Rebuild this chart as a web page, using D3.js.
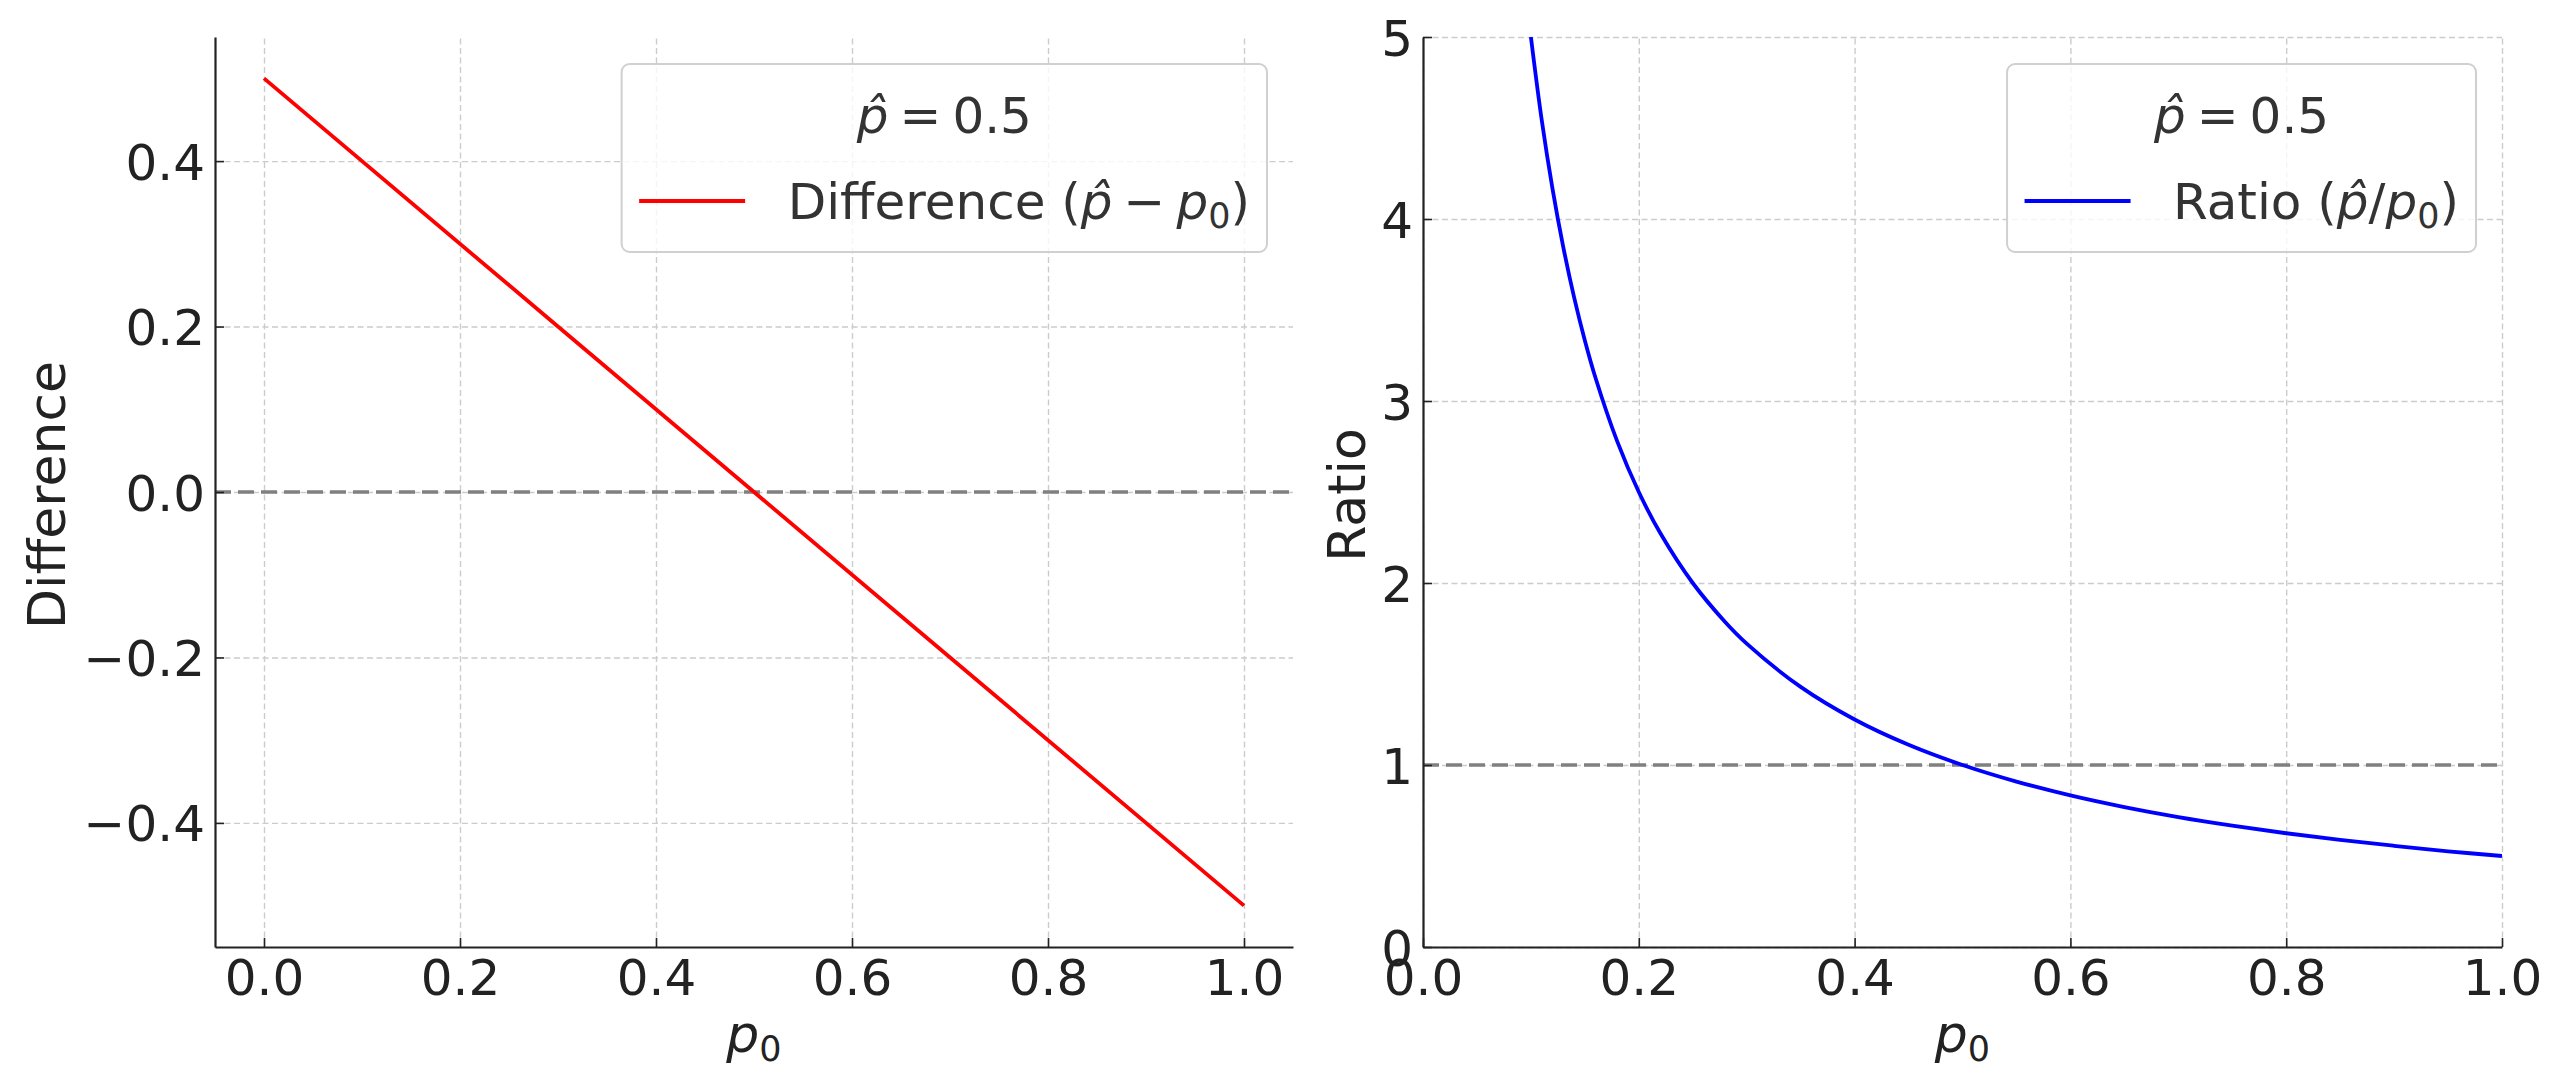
<!DOCTYPE html>
<html lang="en">
<head>
<meta charset="UTF-8" />
<title>Difference and ratio against p0</title>
<script src="https://cdn.jsdelivr.net/npm/d3@7"></script>
<style>
  body { margin: 0; background: #fff; }
  svg { display: block; font-family: "DejaVu Sans", sans-serif; }
  .grid line { stroke: #cccccc; stroke-width: 1.4; stroke-dasharray: 6,3.5; }
  .grid path { display: none; }
  .axis path { stroke: #222; stroke-width: 2.2; }
  .axis line { stroke: #222; stroke-width: 1.6; }
  .axis text { font-size: 50px; fill: #222; font-family: "DejaVu Sans"; }
  .label { font-size: 52px; fill: #222; }
  .legend text { font-size: 50px; fill: #333; }
</style>
</head>
<body>
<script>
const W = 2560, H = 1087;

// difference p_hat - p0
const diffP0 = [0, 0.5, 1.0];
const diffValues = [0.5, 0.0, -0.5];

// ratio p_hat / p0
const ratioP0 = [0.10, 0.11, 0.12, 0.13, 0.14, 0.15, 0.16, 0.18, 0.20, 0.22, 0.25, 0.28, 0.30,
                 0.35, 0.40, 0.45, 0.50, 0.55, 0.60, 0.65, 0.70, 0.75, 0.80, 0.85, 0.90, 0.95, 1.00];
const ratioValues = [5.000, 4.545, 4.167, 3.846, 3.571, 3.333, 3.125, 2.778, 2.500, 2.273, 2.000,
                     1.786, 1.667, 1.429, 1.250, 1.111, 1.000, 0.909, 0.833, 0.769, 0.714, 0.667,
                     0.625, 0.588, 0.556, 0.526, 0.500];

const xTicks = [0, 0.2, 0.4, 0.6, 0.8, 1.0];
const diffTicks = [-0.4, -0.2, 0, 0.2, 0.4];
const ratioTicks = [0, 1, 2, 3, 4, 5];
const diffRef = 0;
const ratioRef = 1;

const legendTitle = [{ t: "p\u0302", i: true }, { t: "=", dx: 11 }, { t: "0.5", dx: 11 }];
const diffLabel = [{ t: "Difference (" }, { t: "p\u0302", i: true }, { t: "\u2212", dx: 11 },
                   { t: "p", i: true, dx: 11 }, { t: "0", sub: true }, { t: ")" }];
const ratioLabel = [{ t: "Ratio (" }, { t: "p\u0302", i: true }, { t: "/" },
                    { t: "p", i: true }, { t: "0", sub: true }, { t: ")" }];
const xLabel = [{ t: "p", i: true }, { t: "0", sub: true }];

const plotTop = 37, plotBottom = 947;

const panels = [
  { id: "diff", left: 215, right: 1293, xDomain: [-0.05, 1.05], yDomain: [-0.55, 0.55],
    yTicks: diffTicks, yFmt: d3.format(".1f"), xs: diffP0, ys: diffValues, color: "#ff0000",
    ref: diffRef, ylabel: "Difference", ylabelX: 65, legend: diffLabel },
  { id: "ratio", left: 1423, right: 2502, xDomain: [0, 1], yDomain: [0, 5],
    yTicks: ratioTicks, yFmt: d3.format("d"), xs: ratioP0, ys: ratioValues, color: "#0000ff",
    ref: ratioRef, ylabel: "Ratio", ylabelX: 1365, legend: ratioLabel }
];

const svg = d3.select("body").append("svg").attr("width", W).attr("height", H);
svg.append("rect").attr("width", W).attr("height", H).attr("fill", "#fff");
const defs = svg.append("defs");

function rich(text, parts) {
  let shifted = false;
  parts.forEach(p => {
    const ts = text.append("tspan").text(p.t);
    if (p.i) ts.attr("font-style", "italic");
    if (p.dx) ts.attr("dx", p.dx);
    if (p.sub) { ts.attr("font-size", "35px").attr("dy", 9); shifted = true; }
    else if (shifted) { ts.attr("dy", -9); shifted = false; }
  });
  return text;
}

panels.forEach(p => {
  const x = d3.scaleLinear().domain(p.xDomain).range([p.left, p.right]);
  const y = d3.scaleLinear().domain(p.yDomain).range([plotBottom, plotTop]);
  const g = svg.append("g");

  defs.append("clipPath").attr("id", "clip-" + p.id)
    .append("rect").attr("x", p.left).attr("y", plotTop)
    .attr("width", p.right - p.left).attr("height", plotBottom - plotTop);

  // grid
  g.append("g").attr("class", "grid")
    .attr("transform", `translate(0,${plotBottom})`)
    .call(d3.axisBottom(x).tickValues(xTicks).tickSize(-(plotBottom - plotTop)).tickFormat(""));
  g.append("g").attr("class", "grid")
    .attr("transform", `translate(${p.left},0)`)
    .call(d3.axisLeft(y).tickValues(p.yTicks).tickSize(-(p.right - p.left)).tickFormat(""));

  // reference line
  g.append("line")
    .attr("x1", x.range()[0]).attr("x2", x.range()[1])
    .attr("y1", y(p.ref)).attr("y2", y(p.ref))
    .attr("stroke", "#808080").attr("stroke-width", 3.6).attr("stroke-dasharray", "16,7");

  // series
  const pts = p.xs.map((v, i) => [v, p.ys[i]]);
  g.append("path")
    .datum(pts)
    .attr("clip-path", `url(#clip-${p.id})`)
    .attr("fill", "none")
    .attr("stroke", p.color)
    .attr("stroke-width", 3.8)
    .attr("d", d3.line().x(d => x(d[0])).y(d => y(d[1])).curve(d3.curveCatmullRom));

  // axes
  const ax = g.append("g").attr("class", "axis")
    .attr("transform", `translate(0,${plotBottom})`)
    .call(d3.axisBottom(x).tickValues(xTicks).tickFormat(d3.format(".1f"))
      .tickSizeInner(-9).tickSizeOuter(0));
  ax.selectAll("text").attr("dy", null).attr("y", 48);

  const ay = g.append("g").attr("class", "axis")
    .attr("transform", `translate(${p.left},0)`)
    .call(d3.axisLeft(y).tickValues(p.yTicks).tickFormat(p.yFmt)
      .tickSizeInner(-9).tickSizeOuter(0).tickPadding(10));
  ay.selectAll("text").attr("dy", "0.36em");

  // axis labels
  rich(g.append("text").attr("class", "label")
    .attr("x", (p.left + p.right) / 2).attr("y", 1052)
    .attr("text-anchor", "middle"), xLabel);
  g.append("text").attr("class", "label")
    .attr("transform", `translate(${p.ylabelX},495) rotate(-90)`)
    .attr("text-anchor", "middle")
    .text(p.ylabel);

  // legend
  const lg = g.append("g").attr("class", "legend");
  const box = lg.append("rect");
  const label = rich(lg.append("text"), p.legend);
  const labelW = label.node().getBBox().width;
  const boxRight = p.right - 26;
  const boxLeft = boxRight - (17 + labelW + 42.5 + 106 + 17.5);
  box.attr("x", boxLeft).attr("y", 64)
    .attr("width", boxRight - boxLeft).attr("height", 188)
    .attr("rx", 8)
    .attr("fill", "#fff").attr("fill-opacity", 0.8)
    .attr("stroke", "#d0d0d0").attr("stroke-width", 2);
  label.attr("x", boxLeft + 17.5 + 106 + 42.5).attr("y", 219);
  lg.append("line")
    .attr("x1", boxLeft + 17.5).attr("x2", boxLeft + 17.5 + 106)
    .attr("y1", 201).attr("y2", 201)
    .attr("stroke", p.color).attr("stroke-width", 3.8);
  rich(lg.append("text")
    .attr("x", (boxLeft + boxRight) / 2).attr("y", 133)
    .attr("text-anchor", "middle"), legendTitle);
});
</script>
</body>
</html>
